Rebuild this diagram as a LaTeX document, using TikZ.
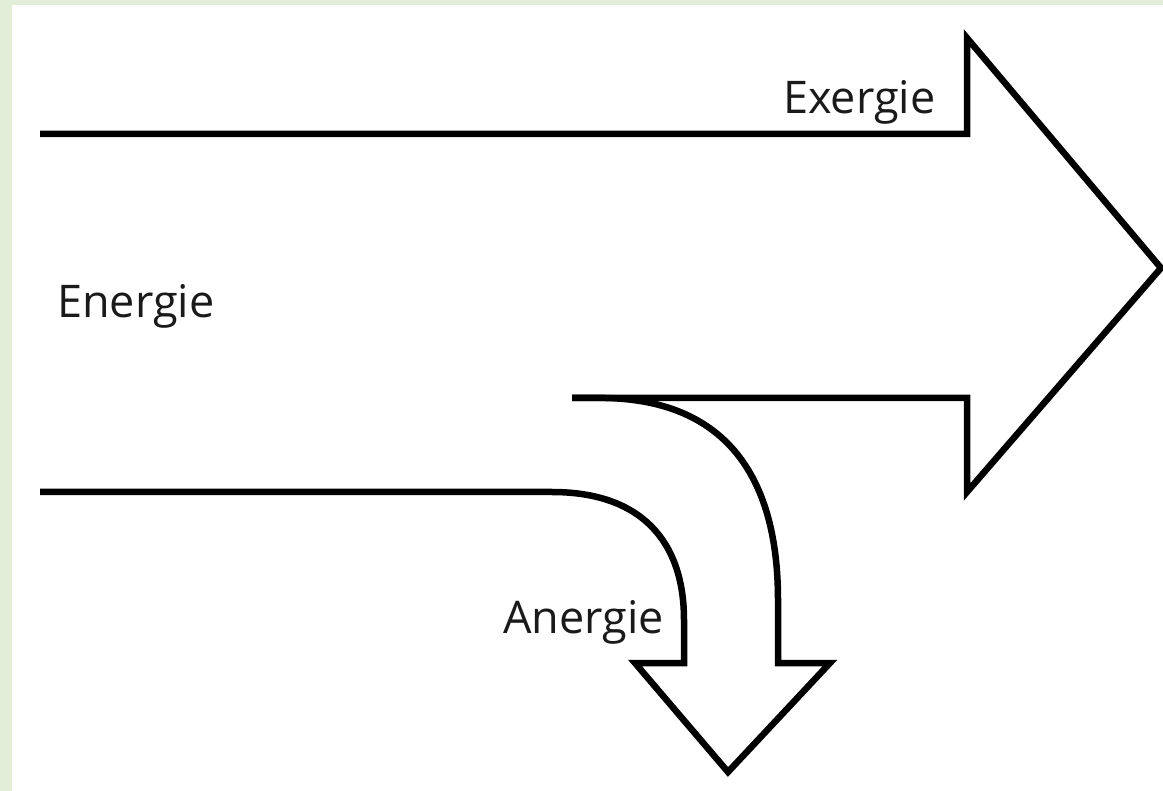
\documentclass[tikz,border=0pt]{standalone}
\usepackage{fontspec}
\setmainfont{Open Sans}
\definecolor{framegreen}{HTML}{E2EED8}
\definecolor{txt}{HTML}{1A1A1A}
\begin{document}
\begin{tikzpicture}[x=1pt,y=-1pt,
  flow/.style={draw=black,line width=6.5pt,line join=miter,line cap=butt},
  lbl/.style={text=txt,font=\fontsize{45}{50}\selectfont,inner sep=0pt,anchor=base west}]
\fill[framegreen] (0,0) rectangle (1163,791);
\fill[white] (12,5) rectangle (1163,791);
\useasboundingbox (0,0) rectangle (1163,791);
\begin{scope}
\clip (0,0) rectangle (1163,791);
% big exergy arrow
\draw[flow] (40,134) -- (967,134) -- (967,38) -- (1161,268) -- (967,492) -- (967,398) -- (572,398);
% anergy curved arrow
\draw[flow] (572,398) -- (605,398) .. controls (720,400) and (778,470) .. (778,600) -- (778,663) -- (830,663) -- (728,772) -- (635,663) -- (684,663) -- (684,620) .. controls (684,540) and (640,492) .. (552,492) -- (40,492);
\end{scope}
\node[lbl] (ex) at (783,114) {Exergie};
\node[lbl] (en) at (57,318) {Energie};
\node[lbl] (an) at (503,633) {Anergie};
\end{tikzpicture}
\end{document}
